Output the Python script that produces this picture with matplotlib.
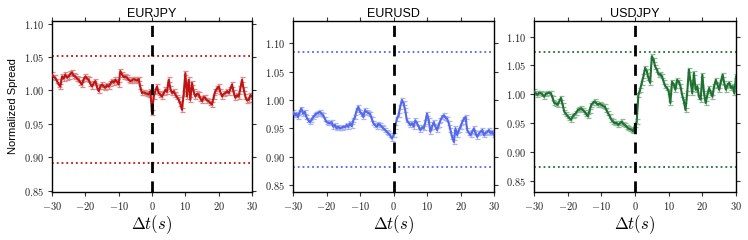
import numpy as np
import matplotlib
matplotlib.use("Agg")
import matplotlib.pyplot as plt
from matplotlib.colors import to_rgb
from matplotlib.ticker import FuncFormatter, MultipleLocator

plt.rcParams['mathtext.fontset'] = 'cm'

t = np.arange(-30, 30.01, 0.5)

eurjpy = [
    1.024, 1.020, 1.019, 1.014, 1.009, 1.006, 1.021, 1.018, 1.024, 1.019,
    1.021, 1.025, 1.027, 1.022, 1.021, 1.018, 1.016, 1.012, 1.009, 1.017,
    1.021, 1.018, 1.016, 1.010, 1.006, 1.011, 1.014, 1.005, 0.999, 1.006,
    1.009, 1.006, 1.004, 1.008, 1.006, 1.010, 1.014, 1.012, 1.016, 1.013,
    1.009, 1.029, 1.024, 1.020, 1.021, 1.019, 1.016, 1.014, 1.015, 1.017,
    1.016, 1.015, 1.017, 1.005, 0.996, 0.997, 0.996, 0.995, 0.994, 0.999,
    0.967, 0.991, 0.999, 1.006, 0.996, 0.994, 0.991, 0.996, 1.001, 0.998,
    1.016, 1.003, 0.996, 0.999, 0.994, 0.990, 0.986, 0.980, 0.971, 0.995,
    1.026, 0.991, 1.016, 0.986, 1.011, 0.998, 0.991, 0.995, 0.994, 0.988,
    0.984, 0.990, 0.989, 0.985, 0.984, 0.981, 0.979, 0.990, 0.999, 1.003,
    1.006, 0.998, 0.991, 0.995, 0.996, 0.999, 0.996, 1.002, 1.009, 0.997,
    0.989, 0.993, 0.991, 1.003, 1.016, 1.002, 0.991, 0.985, 0.986, 0.993,
    0.991,
]

eurusd = [
    0.979, 0.973, 0.976, 0.970, 0.979, 0.985, 0.976, 0.979, 0.970, 0.965,
    0.961, 0.965, 0.970, 0.973, 0.976, 0.977, 0.979, 0.976, 0.973, 0.967,
    0.961, 0.960, 0.959, 0.961, 0.953, 0.956, 0.950, 0.953, 0.950, 0.951,
    0.953, 0.952, 0.956, 0.953, 0.959, 0.954, 0.964, 0.970, 0.982, 0.988,
    0.979, 0.976, 0.970, 0.982, 0.979, 0.977, 0.976, 0.967, 0.959, 0.956,
    0.953, 0.958, 0.956, 0.953, 0.950, 0.947, 0.944, 0.941, 0.938, 0.932,
    0.938, 0.953, 0.967, 0.973, 0.988, 1.000, 0.994, 0.982, 0.964, 0.960,
    0.956, 0.959, 0.953, 0.964, 0.959, 0.953, 0.947, 0.952, 0.950, 0.961,
    0.976, 0.964, 0.944, 0.953, 0.961, 0.953, 0.947, 0.956, 0.964, 0.970,
    0.973, 0.969, 0.967, 0.959, 0.947, 0.935, 0.926, 0.950, 0.938, 0.947,
    0.953, 0.961, 0.967, 0.970, 0.947, 0.942, 0.938, 0.944, 0.950, 0.941,
    0.935, 0.941, 0.944, 0.947, 0.938, 0.942, 0.944, 0.947, 0.941, 0.944,
    0.938,
]

usdjpy = [
    1.005, 1.002, 0.999, 1.003, 1.002, 1.000, 0.996, 1.001, 1.002, 1.003,
    1.002, 0.994, 0.985, 0.984, 0.982, 0.988, 0.994, 0.982, 0.970, 0.966,
    0.962, 0.959, 0.956, 0.962, 0.965, 0.968, 0.973, 0.974, 0.976, 0.973,
    0.970, 0.966, 0.962, 0.972, 0.982, 0.985, 0.988, 0.985, 0.982, 0.984,
    0.982, 0.980, 0.979, 0.973, 0.967, 0.962, 0.956, 0.953, 0.950, 0.951,
    0.947, 0.950, 0.953, 0.949, 0.947, 0.944, 0.941, 0.940, 0.939, 0.936,
    0.947, 0.953, 0.999, 1.008, 1.020, 1.031, 1.046, 1.040, 1.028, 1.020,
    1.066, 1.060, 1.048, 1.043, 1.034, 1.035, 1.031, 1.022, 1.014, 1.011,
    1.005, 0.985, 1.022, 1.017, 1.008, 1.025, 1.022, 1.014, 0.999, 0.988,
    0.973, 1.002, 1.043, 1.022, 1.002, 1.037, 1.008, 1.014, 0.996, 0.991,
    1.034, 1.002, 0.985, 0.999, 1.011, 1.003, 0.996, 1.014, 1.025, 1.017,
    1.008, 1.022, 1.034, 1.020, 1.008, 1.017, 1.020, 1.011, 1.014, 1.002,
    1.031,
]

titles = ["EURJPY", "EURUSD", "USDJPY"]
series = [eurjpy, eurusd, usdjpy]
colors = ["#bf1414", "#5468ea", "#1f7132"]
bands = [(1.052, 0.892), (1.085, 0.882), (1.074, 0.875)]
ylims = [(0.848, 1.104), (0.838, 1.139), (0.831, 1.127)]
err = 0.0035

fig = plt.figure(figsize=(7.48, 2.4), dpi=100)
lefts = [52 / 748, 293 / 748, 534 / 748]
widths = [200 / 748, 201 / 748, 202 / 748]
bottom = 48 / 240
height = 171 / 240


def fmt_x(v, pos):
    return r'$%d$' % round(v)


def fmt_y(v, pos):
    return r'$%.2f$' % v


def lighten(c, f=0.5):
    r, g, b = to_rgb(c)
    return (r + (1 - r) * f, g + (1 - g) * f, b + (1 - b) * f)


for i in range(3):
    ax = fig.add_axes([lefts[i], bottom, widths[i], height])
    y = np.array(series[i])
    c = colors[i]
    ax.errorbar(t, y, yerr=err, fmt='none', ecolor=lighten(c, 0.5),
                elinewidth=0.9, capsize=1.8, capthick=0.9, zorder=2.5)
    ax.plot(t, y, '-', color=c, lw=1.5, zorder=3)
    for hl in bands[i]:
        ax.axhline(hl, color=c, ls=':', lw=1.3, zorder=2)
    ax.axvline(0, color='black', ls='--', lw=2, dashes=(4, 3), zorder=4)
    ax.set_xlim(-30, 30)
    ax.set_ylim(*ylims[i])
    ax.xaxis.set_major_locator(MultipleLocator(10))
    ax.yaxis.set_major_locator(MultipleLocator(0.05))
    ax.xaxis.set_major_formatter(FuncFormatter(fmt_x))
    ax.yaxis.set_major_formatter(FuncFormatter(fmt_y))
    ax.tick_params(direction='out', length=3, width=0.8, labelsize=7.5,
                   top=True, right=True, pad=3, colors='#333333',
                   labelcolor='#222222')
    for s in ax.spines.values():
        s.set_linewidth(1.0)
    ax.set_title(titles[i], fontsize=9, family='Liberation Sans', pad=3)
    ax.set_xlabel(r'$\Delta t(s)$', fontsize=12, labelpad=1)
    if i == 0:
        ax.set_ylabel('Normalized Spread', fontsize=8, family='Liberation Sans',
                      labelpad=4)

fig.savefig('out.png', dpi=100)
